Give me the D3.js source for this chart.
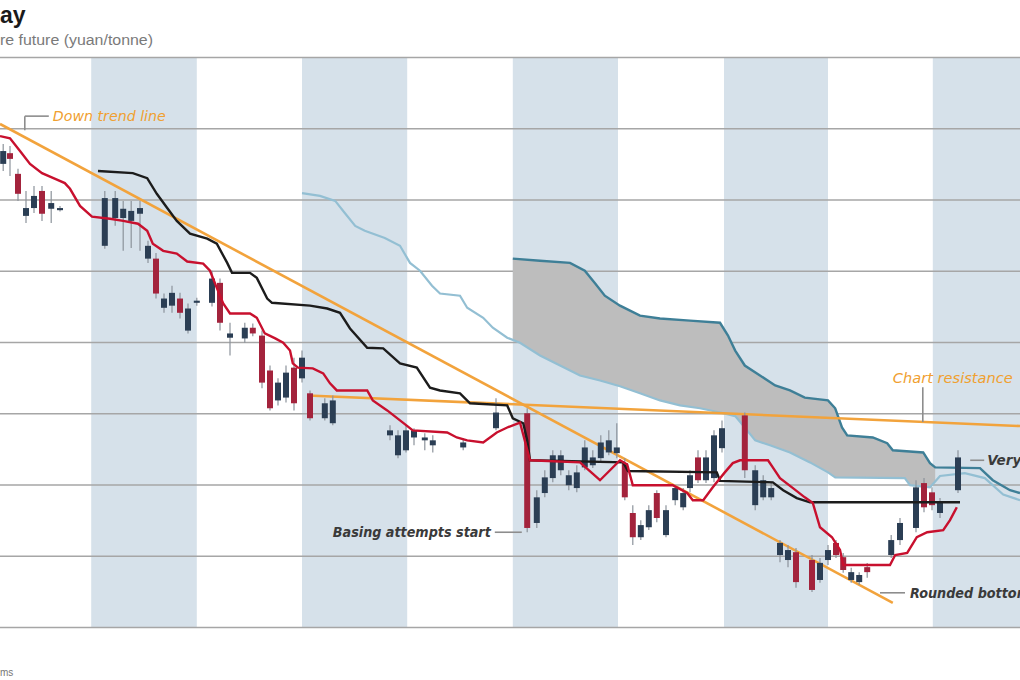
<!DOCTYPE html>
<html><head><meta charset="utf-8">
<script src="https://cdn.jsdelivr.net/npm/d3@7"></script>
<style>body{margin:0;background:#fff} svg{display:block}</style>
</head><body>
<svg id="chart" width="1020" height="680"></svg>
<script>
// ---------- DATA ----------
const titleText = "ay";
const subtitleText = "re future (yuan/tonne)";
const footerText = "ms";
const gridPrices = [2000, 2100, 2200, 2300, 2400, 2500, 2600, 2700, 2800];
// shaded periods (session index)
const shadedPeriods = [[11.4, 24.6], [37.75, 50.9], [64.1, 77.25], [90.5, 103.5], [116.6, 130]];
// candles: [session, open, high, low, close]
const candles = [
  [0.4,2650,2678,2640,2668],[1.25,2665,2675,2633,2657],[2.25,2636,2643,2598,2608],[3.25,2577,2612,2567,2588],
  [4.25,2588,2619,2581,2605],[5.25,2612,2619,2570,2580],[6.4,2587,2612,2567,2595],[7.5,2585,2591,2583,2588],
  [13.1,2535,2612,2531,2602],[14.4,2574,2612,2563,2602],[15.4,2574,2598,2528,2587],[16.4,2570,2598,2532,2584],
  [17.5,2580,2598,2528,2588],[18.5,2517,2542,2511,2535],[19.5,2517,2525,2461,2468],[20.5,2448,2468,2441,2461],
  [21.5,2451,2479,2441,2469],[22.5,2461,2469,2433,2441],[23.5,2416,2454,2412,2447],[24.6,2455,2462,2451,2458],
  [26.5,2455,2500,2450,2489],[27.5,2483,2489,2416,2427],[28.75,2406,2427,2381,2412],[30.6,2405,2427,2399,2420],
  [31.6,2420,2426,2408,2412],[32.75,2409,2416,2335,2343],[33.75,2360,2367,2304,2307],[34.75,2318,2349,2311,2343],
  [35.75,2322,2367,2315,2357],[36.75,2364,2378,2304,2314],[37.75,2349,2388,2343,2378],[38.75,2328,2332,2290,2293],
  [40.6,2293,2321,2290,2314],[41.6,2286,2325,2283,2318],[48.75,2269,2283,2262,2276],[49.75,2241,2276,2237,2269],
  [50.75,2248,2283,2245,2276],[51.75,2266,2279,2255,2276],[53.1,2262,2272,2248,2266],[54.1,2255,2269,2245,2262],
  [57.9,2252,2265,2248,2259],[62,2279,2321,2276,2301],[65.9,2300,2307,2133,2139],[67.1,2146,2192,2139,2182],
  [68.1,2188,2220,2182,2210],[69.1,2209,2248,2203,2241],[70.1,2220,2248,2213,2241],[71.1,2199,2220,2192,2213],
  [72.1,2195,2227,2189,2217],[73.1,2224,2262,2220,2252],[74.1,2227,2248,2223,2238],[75.1,2237,2269,2231,2259],
  [76.1,2245,2276,2241,2262],[77.1,2244,2286,2237,2252],[78.1,2230,2237,2178,2182],[79.1,2160,2171,2115,2126],
  [80.1,2126,2150,2122,2143],[81.1,2140,2171,2136,2164],[82.1,2188,2192,2147,2153],[83.25,2129,2171,2126,2164],
  [84.4,2178,2199,2171,2195],[85.4,2168,2195,2164,2188],[86.25,2195,2220,2189,2213],[87.25,2238,2248,2202,2206],
  [88.25,2206,2248,2202,2238],[89.25,2209,2276,2203,2269],[90.25,2251,2290,2245,2279],[93.1,2297,2301,2209,2220],
  [94.4,2171,2227,2164,2220],[95.4,2182,2213,2178,2206],[96.4,2182,2202,2178,2195],[97.5,2101,2122,2091,2118],
  [98.5,2094,2115,2084,2108],[99.5,2105,2111,2055,2063],[101.5,2094,2101,2049,2052],[102.5,2066,2097,2062,2090],
  [103.5,2094,2115,2087,2108],[104.5,2118,2122,2097,2101],[105.4,2098,2104,2076,2080],[106.4,2066,2083,2062,2077],
  [107.4,2063,2077,2059,2073],[108.4,2084,2090,2069,2077],[111.4,2101,2129,2097,2122],[112.5,2122,2153,2115,2146],
  [114.5,2139,2206,2133,2196],[115.5,2202,2209,2161,2168],[116.5,2189,2196,2164,2171],[117.5,2160,2181,2153,2175],
  [119.75,2192,2248,2188,2238]
];
// conversion line (red)
const conversionLine = [
  [0,2689],[1.25,2686],[2.5,2668],[3.75,2650],[5.25,2637],[6.9,2629],[8.1,2623],[8.75,2615],[10,2591],[11.5,2576],
  [13.75,2573],[15.4,2570],[17.25,2566],[18.4,2556],[19.1,2538],[20.4,2528],[22.1,2524],[23.4,2513],[25.4,2510],
  [26.25,2500],[27.1,2476],[27.9,2454],[28.75,2440],[31.25,2440],[32.1,2434],[33.1,2412],[34.4,2405],[35.4,2399],
  [36.25,2388],[36.6,2370],[37.25,2364],[39.1,2363],[40.4,2356],[41.25,2342],[42.1,2332],[45.9,2332],[46.6,2318],
  [48.4,2304],[50,2290],[51.6,2276],[55.9,2273],[57.1,2266],[58.4,2262],[60.4,2259],[62.1,2273],[63.4,2280],
  [65,2287],[66.25,2234],[72.5,2231],[75,2206],[76.25,2220],[77.5,2234],[78.4,2228],[79.1,2199],[84.1,2199],
  [85.9,2188],[86.6,2178],[87.9,2178],[89.1,2196],[90.6,2217],[91.6,2230],[92.5,2234],[96,2234],[96.6,2224],
  [97.5,2209],[99,2196],[100.6,2182],[101.6,2174],[102.5,2140],[104,2126],[105,2108],[105.4,2087],[111.25,2087],
  [111.9,2101],[113.4,2104],[114.6,2126],[115.9,2133],[117.9,2136],[118.75,2150],[119.6,2168]
];
// base line (black)
const baseLine = [
  [12.25,2640],[16.6,2637],[18.4,2630],[19.6,2608],[20.9,2588],[22.1,2570],[23.75,2552],[25.9,2545],[27.1,2538],
  [28.4,2511],[29,2497],[31.25,2497],[32.1,2490],[33.4,2461],[34,2455],[38.75,2451],[40.9,2447],[42.5,2441],
  [43.75,2419],[45.9,2392],[47.9,2391],[50,2370],[52.1,2364],[53.75,2336],[55,2332],[57.5,2328],[58.75,2314],
  [63.4,2311],[64.1,2293],[65.4,2286],[65.9,2262],[66.25,2234],[77.9,2231],[78.5,2219],[89.6,2217],[90,2205],
  [96.6,2203],[97.9,2192],[99.6,2181],[101.25,2175],[120,2175]
];
// leading span A (light blue)
const spanA = [
  [37.75,2609],[40,2605],[41.9,2598],[43.1,2581],[44.4,2563],[45.6,2556],[48.1,2546],[50,2535],[51.25,2511],
  [52.5,2500],[54,2479],[55,2468],[57.5,2465],[58.4,2448],[60.4,2434],[61.6,2420],[63.4,2406],[65,2399],
  [67.5,2381],[70,2367],[72.5,2353],[75,2346],[77.5,2338],[80,2328],[82.5,2318],[85,2311],[87.5,2307],[90,2301],
  [91.9,2296],[93.1,2280],[94.4,2262],[96.25,2255],[98.75,2245],[101.25,2231],[103.5,2217],[104.4,2210],
  [113.1,2209],[113.75,2199],[116.25,2196],[117.5,2212],[120.6,2216],[123.1,2209],[125.4,2186],[127.5,2178]
];
// leading span B (dark teal)
const spanB = [
  [64.1,2517],[67.5,2514],[71.25,2511],[73.1,2500],[74.4,2482],[75.6,2465],[77.5,2451],[80,2437],[82.5,2433],
  [86.25,2430],[90,2427],[91,2409],[91.9,2388],[93.1,2367],[95,2353],[96.9,2339],[98.75,2332],[100.6,2322],
  [103.5,2318],[104.4,2307],[105.25,2280],[105.9,2269],[109.1,2266],[110.9,2258],[111.6,2248],[115.4,2245],
  [116.25,2230],[116.9,2224],[122.5,2223],[124.1,2206],[126.25,2192],[127.5,2188]
];
const downTrend = [[0,2706],[111.6,2034]];
const resistance = [[38.5,2325],[127.5,2282]];
// annotations: text, anchor (session, price)
const annotations = [
  {text:"Down trend line", s:6.6, p:2717, kind:"orange"},
  {text:"Chart resistance", s:111.6, p:2342, kind:"orange"},
  {text:"Very", s:123.4, p:2234, kind:"dark"},
  {text:"Basing attempts start", s:41.6, p:2133, kind:"dark"},
  {text:"Rounded bottom", s:113.75, p:2048, kind:"dark"}
];

// ---------- CHART ----------
const svg = d3.select("#chart");
const W = 1020, topY = 57, bottomY = 627;
const x = d3.scaleLinear().domain([0, 127.5]).range([0, W]);
const y = d3.scaleLinear().domain([2000, 2800]).range([bottomY, topY]);

// shaded bands
svg.append("g").selectAll("rect").data(shadedPeriods).join("rect")
  .attr("x", d => x(d[0])).attr("width", d => x(d[1]) - x(d[0]))
  .attr("y", topY).attr("height", bottomY - topY).attr("fill", "#d6e1ea");

// gridlines via axis
const gridAxis = d3.axisRight(y).tickValues(gridPrices).tickSize(W).tickFormat("");
const gg = svg.append("g").call(gridAxis);
gg.select(".domain").remove();
gg.selectAll("line").attr("stroke", "#a6a6a6").attr("stroke-width", 1.3);

// cloud fill between spans
const fA = d3.scaleLinear().domain(spanA.map(d => d[0])).range(spanA.map(d => d[1]));
const fB = d3.scaleLinear().domain(spanB.map(d => d[0])).range(spanB.map(d => d[1]));
const cloudS = Array.from(new Set(spanA.map(d => d[0]).concat(spanB.map(d => d[0]))))
  .filter(s => s >= 64.1 && s <= 116.9).sort((a, b) => a - b);
svg.append("path").datum(cloudS)
  .attr("d", d3.area().x(s => x(s)).y0(s => y(fA(s))).y1(s => y(fB(s))))
  .attr("fill", "#bdbdbd");

const line = d3.line().x(d => x(d[0])).y(d => y(d[1]));
svg.append("path").datum(spanA).attr("d", line).attr("fill", "none")
  .attr("stroke", "#93bfd3").attr("stroke-width", 2.2);
svg.append("path").datum(spanB).attr("d", line).attr("fill", "none")
  .attr("stroke", "#3e7f97").attr("stroke-width", 2.4);

// orange trend lines
[downTrend, resistance].forEach(t => {
  svg.append("path").datum(t).attr("d", line).attr("fill", "none")
    .attr("stroke", "#f2a33c").attr("stroke-width", 2.6);
});

// candles
const cg = svg.append("g");
cg.selectAll("line").data(candles).join("line")
  .attr("x1", d => x(d[0])).attr("x2", d => x(d[0]))
  .attr("y1", d => y(d[2])).attr("y2", d => y(d[3]))
  .attr("stroke", "#8c939b").attr("stroke-width", 1.2);
cg.selectAll("rect").data(candles).join("rect")
  .attr("x", d => x(d[0]) - 3).attr("width", 6)
  .attr("y", d => y(Math.max(d[1], d[4])))
  .attr("height", d => Math.max(2, Math.abs(y(d[1]) - y(d[4]))))
  .attr("fill", d => d[4] < d[1] ? "#a3233c" : "#2b3e54");

// base and conversion lines
svg.append("path").datum(baseLine).attr("d", line).attr("fill", "none")
  .attr("stroke", "#1c1c1c").attr("stroke-width", 2.4);
svg.append("path").datum(conversionLine).attr("d", line).attr("fill", "none")
  .attr("stroke", "#c8102e").attr("stroke-width", 2.4);

// annotations
const fR = d3.scaleLinear().domain(resistance.map(d => d[0])).range(resistance.map(d => d[1]));
const font = "'Liberation Sans Narrow','DejaVu Sans Condensed','Liberation Sans',sans-serif";
const ann = svg.append("g");
const leader = (x1, y1, x2, y2) => ann.append("line").attr("x1", x1).attr("y1", y1)
  .attr("x2", x2).attr("y2", y2).attr("stroke", "#8d8d8d").attr("stroke-width", 1.6);
function label(a, tx, ty, len) {
  const t = ann.append("text").attr("x", tx).attr("y", ty).text(a.text)
    .attr("font-family", font).attr("font-size", 14).attr("font-style", "italic")
    .attr("font-weight", a.kind === "dark" ? "bold" : "normal")
    .attr("fill", a.kind === "orange" ? "#f0a030" : "#3a3a3a");
  if (len) t.attr("textLength", len).attr("lengthAdjust", "spacingAndGlyphs");
  return t;
}
{ // Down trend line
  const a = annotations[0], ax = x(a.s) - 28, ay = y(a.p);
  leader(ax, ay, ax + 24, ay); leader(ax, ay, ax, ay + 14);
  label(a, ax + 28, ay + 5, 113);
}
{ // Chart resistance
  const a = annotations[1], ax = x(a.s) + 30, ay = y(a.p);
  leader(ax, ay + 4, ax, y(fR(x.invert(ax))));
  label(a, x(a.s), ay, 120);
}
{ // Very
  const a = annotations[2], ax = x(a.s), ay = y(a.p);
  leader(ax - 17, ay, ax - 3, ay);
  label(a, ax, ay + 5, 34);
}
{ // Basing attempts start
  const a = annotations[3], ax = x(a.s), ay = y(a.p);
  label(a, ax, ay + 5, 158);
  leader(ax + 162, ay, ax + 189, ay);
}
{ // Rounded bottom
  const a = annotations[4], ax = x(a.s), ay = y(a.p);
  leader(ax - 30, ay, ax - 5, ay);
  label(a, ax, ay + 5, 120);
}

// title, subtitle, footer
svg.append("text").attr("x", 0).attr("y", 23).text(titleText)
  .attr("font-family", "'Liberation Sans',sans-serif").attr("font-weight", "bold")
  .attr("font-size", 23).attr("fill", "#1a1a1a");
svg.append("text").attr("x", 0).attr("y", 45).text(subtitleText)
  .attr("font-family", "'Liberation Sans Narrow','Liberation Sans',sans-serif")
  .attr("font-size", 14).attr("fill", "#7a7a7a").attr("textLength", 153).attr("lengthAdjust", "spacingAndGlyphs");
svg.append("text").attr("x", 0).attr("y", 676).text(footerText)
  .attr("font-family", "'Liberation Sans',sans-serif").attr("font-size", 10).attr("fill", "#777");
</script>
</body></html>
